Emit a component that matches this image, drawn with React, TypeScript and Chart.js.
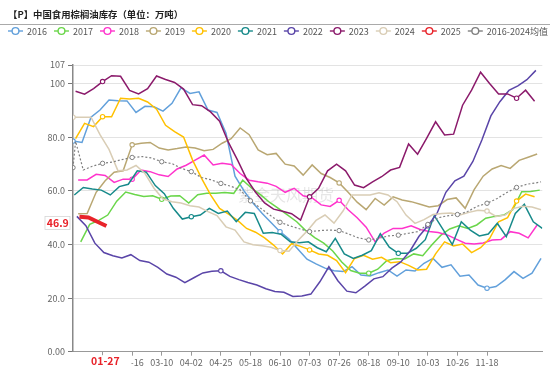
import React, { useEffect, useRef } from 'react';
import { Chart, registerables } from 'chart.js';

Chart.register(...registerables);

const FONT = '"Noto Sans CJK SC", "Noto Sans", sans-serif';
const TITLE = '【P】中国食用棕榈油库存（单位：万吨）';
const WATERMARK = '紫金天风期货';

// series names / colours / first data day (day index in a leap-year calendar, weekly data)
const seriesNames = ['2016', '2017', '2018', '2019', '2020', '2021', '2022', '2023', '2024', '2025'];
const seriesColors = ['#62a0db', '#6ad64a', '#ff33cc', '#b9a772', '#ffc000', '#178a8a', '#5a45a8', '#8b1a6b', '#d9cdb5', '#e8232a'];
const startDays = [0, 6, 4, 4, 2, 1, 3, 2, 0, 5];

const v2016 = [78.6, 78.1, 87.5, 90.2, 93.9, 93.7, 93.6, 89.3, 91.6, 91.4, 89.8, 92.7, 98.5, 96.4, 97, 90.2, 89.3, 81.5, 65.5, 60, 55.5, 51.7, 48.2, 44.8, 42, 38.2, 34.5, 32.8, 31.2, 30.2, 29.9, 31.7, 28.6, 28.3, 29.5, 30.5, 28.2, 30.5, 30.1, 33, 34.8, 31.5, 32.4, 28.2, 28.6, 24.9, 23.7, 24.3, 26.8, 29.9, 27.4, 29.3, 34.8];
const v2017 = [41, 47.5, 49, 51, 56.2, 59.6, 58.7, 57.9, 58.2, 56.9, 58.1, 58.2, 55.5, 58.6, 59.1, 59.1, 59.4, 59.1, 64, 61, 58.5, 55.7, 53.4, 51, 48.5, 45.2, 42.6, 40.5, 37.6, 33.5, 30.3, 29.3, 29.3, 30.8, 34, 34.8, 34.6, 36.5, 35.8, 39.8, 43.4, 45.8, 47, 46, 47.3, 49.8, 50.5, 51, 53, 59.7, 59.8, 60.3];
const v2018 = [64.1, 64.1, 66.2, 65.8, 63.2, 64.4, 64.4, 67.8, 67.2, 66, 65.4, 68.2, 69.6, 71.5, 73.4, 69.7, 70.3, 69.9, 66.5, 64, 63.4, 62.9, 61.7, 59.5, 61, 58.2, 57.4, 54.8, 54.2, 56.5, 53, 50, 46.5, 41, 44.3, 46, 46, 47, 45.6, 44.9, 44.5, 43.6, 42, 40.5, 40.2, 40.6, 41.7, 41.9, 44.8, 44.2, 42.5, 47.3];
const v2019 = [51.5, 51.6, 59.5, 63.8, 67, 67.5, 77.2, 77.8, 78.1, 76, 75.3, 75.8, 76.4, 76, 75, 75.5, 77.8, 79.5, 83.5, 81, 75.3, 73.5, 74, 70, 69.3, 65.9, 69.7, 66.5, 65, 63, 59.5, 55.8, 53, 57.2, 54.7, 57.8, 56.6, 56, 55, 54, 54.5, 56.8, 57.4, 53.5, 60.5, 65.5, 68.2, 69.5, 68.4, 71.4, 72.6, 73.8];
const v2020 = [79.5, 85.2, 84, 87.7, 87.7, 94.6, 94.3, 94.6, 93.2, 90.5, 84.5, 82.1, 80.1, 71.5, 64.7, 58.5, 53.5, 51.3, 49, 46, 44.6, 42.5, 39.8, 36.5, 40.3, 39.3, 38, 36.5, 36, 34, 29.5, 34.8, 36, 34.5, 35.2, 33.2, 33.6, 32.2, 30.5, 30.8, 36.5, 41, 39.5, 40.2, 37, 38.8, 42.2, 48.5, 50, 56.2, 58.8, 57.8];
const v2021 = [58.5, 61.3, 60.7, 60.3, 58.5, 61.6, 62.5, 67.5, 67, 62, 59, 53.5, 49.5, 50.4, 51, 53.5, 51.6, 52.5, 48.5, 52, 51.6, 44.2, 44.5, 43.8, 41, 40.7, 41, 38.8, 37.3, 42.3, 36.5, 34.8, 36, 37.7, 44, 39, 36.7, 36.7, 38.6, 41.8, 50.8, 45.5, 40, 48.5, 45.4, 43.2, 43.9, 47.9, 42.9, 51.6, 55, 48.5, 46];
const v2022 = [50.5, 47, 40.5, 37, 35.8, 35, 36.2, 34, 33.4, 31.5, 29, 27.8, 25.8, 27.6, 29.4, 30, 30.2, 28.1, 26.9, 25.8, 24.9, 23.5, 22.5, 22.2, 20.6, 20.8, 21.5, 26.1, 31.7, 26.5, 22.6, 22, 24.5, 27.2, 28, 31.2, 33.5, 37.5, 43, 47, 51.5, 59.5, 63.8, 65.5, 71, 79, 88, 93.3, 97.5, 99.2, 101.5, 105];
const v2023 = [97.2, 96.1, 98.2, 100.8, 103, 102.8, 97.5, 96.2, 98.2, 102.9, 101.6, 100.5, 98, 92.2, 91.8, 89.5, 86, 78, 71.5, 64.5, 59.5, 55.5, 53.2, 52.4, 51.5, 49.1, 57.8, 61, 67.5, 70, 67.5, 62.2, 61.2, 63.4, 65.3, 67.8, 68.8, 77.5, 73.7, 79.6, 85.8, 80.9, 81.2, 92, 97.6, 104.3, 100.1, 96.2, 96.2, 94.6, 97.6, 93.5];
const v2024 = [87.5, 87.5, 87.5, 81, 75.5, 67.5, 67.8, 69.5, 66.5, 61, 57, 56, 55.5, 54.5, 54, 52.3, 50.8, 46.6, 45.4, 41, 39.9, 39.5, 39, 37.8, 37.5, 41.5, 45, 49, 51, 48, 52.5, 58.5, 58.5, 58.5, 59.3, 58.5, 56, 51, 47.9, 49.3, 51.2, 51.6, 51.8, 51, 52, 52.8, 52.5, 50.5, 51, 53.5, 54.3, 54, 53];
const v2025 = [50.4, 50.1, 48.5, 46.9];
const seriesValues = [v2016, v2017, v2018, v2019, v2020, v2021, v2022, v2023, v2024, v2025];

const avgName = '2016-2024均值';
const avgColor = '#808080';
const avgDays = [0, 2, 8, 15, 23, 31, 38, 46, 54, 61, 69, 77, 84, 92, 100, 107, 115, 123, 130, 138, 146, 153, 161, 169, 176, 184, 192, 199, 207, 215, 222, 230, 238, 245, 253, 261, 268, 276, 284, 291, 299, 307, 314, 322, 330, 337, 345, 353, 360, 364];
const avgValues = [68.7, 78.5, 67.8, 69.2, 70.3, 70.8, 71.7, 72.5, 72.8, 72.3, 70.9, 70.2, 68.5, 67.2, 65, 64.2, 62.8, 61.7, 60.4, 56.3, 53.5, 51, 48.3, 46.9, 45.9, 44.8, 45.2, 45.4, 45.2, 43.8, 42.5, 41.7, 42.3, 43.2, 43.5, 44.2, 44.8, 47.5, 50, 50.7, 51.2, 52.3, 54.2, 55.4, 57.2, 59.3, 61.3, 62.5, 63, 63.4];

const xTickDays = [23, 46, 69, 92, 115, 138, 161, 184, 207, 230, 253, 276, 299, 322];
const xTickLabels = ['01-24', '02-16', '03-10', '04-02', '04-25', '05-18', '06-10', '07-03', '07-26', '08-18', '09-10', '10-03', '10-26', '11-18'];
const yTickValues = [0, 20, 40, 60, 80, 100, 107];
const yTickLabels = ['0.00', '20.0', '40.0', '60.0', '80.0', '100', '107'];

const latestDay = 26;
const latestLabel = '01-27';
const latestValue = 46.9;
const LABEL_DAY_STEP = 23;

const markerRadius = (ctx: any) => {
  const r = ctx.raw;
  return r && r.x % LABEL_DAY_STEP === 0 ? 2.2 : 0;
};

const decorPlugin = {
  id: 'decor',
  beforeDatasetsDraw(chart: any) {
    const { ctx, chartArea } = chart;
    ctx.save();
    ctx.font = `16px ${FONT}`;
    ctx.fillStyle = 'rgba(140,140,140,0.22)';
    ctx.textAlign = 'center';
    ctx.textBaseline = 'middle';
    ctx.fillText(WATERMARK, chartArea.left + 213, 195);
    ctx.restore();
  },
  afterDraw(chart: any) {
    const { ctx } = chart;
    const xs = chart.scales.x;
    const ys = chart.scales.y;
    ctx.save();
    // title
    ctx.font = `bold 9.4px ${FONT}`;
    ctx.fillStyle = '#222';
    ctx.textAlign = 'left';
    ctx.textBaseline = 'middle';
    ctx.fillText(TITLE, 8, 14);
    ctx.strokeStyle = '#aaa';
    ctx.lineWidth = 1;
    ctx.beginPath();
    ctx.moveTo(0, 24.5);
    ctx.lineTo(550, 24.5);
    ctx.stroke();
    // legend
    ctx.font = `9px ${FONT}`;
    let lx = 8;
    const ly = 31;
    chart.data.datasets.forEach((ds: any) => {
      ctx.strokeStyle = ds.borderColor;
      ctx.lineWidth = 1.4;
      ctx.setLineDash([]);
      ctx.beginPath();
      ctx.moveTo(lx, ly);
      ctx.lineTo(lx + 15, ly);
      ctx.stroke();
      ctx.beginPath();
      ctx.arc(lx + 7.5, ly, 3.4, 0, Math.PI * 2);
      ctx.fillStyle = '#fff';
      ctx.fill();
      ctx.stroke();
      ctx.fillStyle = '#555';
      ctx.fillText(ds.label, lx + 19, ly + 0.5);
      lx += 19 + ctx.measureText(ds.label).width + 7;
    });
    // latest value labels
    const px = xs.getPixelForValue(latestDay);
    ctx.fillStyle = '#fff';
    ctx.fillRect(px - 26, ys.bottom + 3.6, 51, 12);
    ctx.font = `bold 10.5px ${FONT}`;
    ctx.fillStyle = '#e8232a';
    ctx.textAlign = 'center';
    ctx.fillText(latestLabel, px - 1, 361);
    const py = ys.getPixelForValue(latestValue) - 3;
    ctx.fillStyle = '#fff';
    ctx.strokeStyle = '#d6d6d6';
    ctx.lineWidth = 0.8;
    ctx.fillRect(45, py - 6.5, 25, 13);
    ctx.strokeRect(45, py - 6.5, 25, 13);
    ctx.fillStyle = '#e8232a';
    ctx.fillText(latestValue.toFixed(1), 57.8, py);
    ctx.restore();
  },
};

export default function App() {
  const ref = useRef<HTMLCanvasElement | null>(null);
  useEffect(() => {
    if (!ref.current) return;
    const datasets: any[] = seriesNames.map((name, i) => ({
      label: name,
      data: seriesValues[i].map((v, k) => ({ x: startDays[i] + 7 * k, y: v })),
      borderColor: seriesColors[i],
      backgroundColor: seriesColors[i],
      borderWidth: name === '2025' ? 4 : 1.5,
      pointRadius: markerRadius,
      pointBackgroundColor: '#fff',
      pointBorderColor: seriesColors[i],
      pointBorderWidth: 1.1,
      tension: 0,
      order: seriesNames.length + 1 - i,
    }));
    datasets.push({
      label: avgName,
      data: avgValues.map((v, k) => ({ x: avgDays[k], y: v })),
      borderColor: avgColor,
      backgroundColor: avgColor,
      borderWidth: 1.2,
      borderDash: [2, 2],
      pointRadius: markerRadius,
      pointBackgroundColor: '#fff',
      pointBorderColor: avgColor,
      pointBorderWidth: 1,
      tension: 0,
      order: 0,
    });
    const chart = new Chart(ref.current, {
      type: 'line',
      data: { datasets },
      options: {
        animation: false,
        responsive: false,
        devicePixelRatio: 1,
        layout: { padding: { top: 65, right: 7.7, left: 0, bottom: 0 } },
        plugins: { legend: { display: false }, tooltip: { enabled: false } },
        scales: {
          x: {
            type: 'linear',
            min: 0,
            max: 365,
            afterFit: (s: any) => { s.height = 14.3; },
            afterBuildTicks: (s: any) => { s.ticks = xTickDays.map((v) => ({ value: v })); },
            grid: { drawOnChartArea: false, drawTicks: true, tickLength: 4, tickColor: '#999' },
            border: { color: '#999', width: 1 },
            ticks: {
              autoSkip: false,
              maxRotation: 0,
              padding: 1,
              color: '#666',
              font: { family: FONT, size: 9 },
              callback: (_v: any, i: number) => xTickLabels[i],
            },
          },
          y: {
            type: 'linear',
            min: 0,
            max: 107,
            afterFit: (s: any) => { s.width = 73; },
            afterBuildTicks: (s: any) => { s.ticks = yTickValues.map((v) => ({ value: v })); },
            grid: { color: '#e3e3e3', lineWidth: 1, tickLength: 5, tickColor: '#777' },
            border: { color: '#888', width: 1.5 },
            ticks: {
              padding: 3,
              color: '#666',
              font: { family: FONT, size: 9 },
              callback: (_v: any, i: number) => yTickLabels[i],
            },
          },
        },
      },
      plugins: [decorPlugin],
    });
    return () => chart.destroy();
  }, []);
  return (
    <div style={{ position: 'fixed', left: 0, top: 0, width: 550, height: 366, background: '#fff' }}>
      <canvas ref={ref} width={550} height={366} />
    </div>
  );
}
